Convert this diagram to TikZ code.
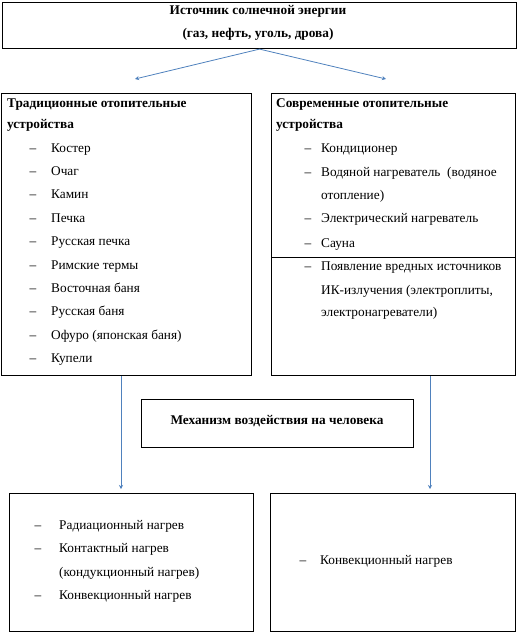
\documentclass[tikz,border=0pt]{standalone}
\usepackage{fontspec}
\setmainfont{Liberation Serif}
\usetikzlibrary{arrows.meta}
\definecolor{wordblue}{RGB}{79,129,189}

\begin{document}
\begin{tikzpicture}[x=1pt,y=-1pt,
  box/.style={draw,line width=1.1pt,inner sep=0pt,anchor=north west},
  txt/.style={font=\fontsize{13.3}{15}\selectfont,inner sep=0pt,anchor=base west},
  head/.style={txt,font=\fontsize{13.3}{15}\selectfont\bfseries},
  arr/.style={draw=wordblue,line width=0.8pt,-{Stealth[length=4pt,width=4pt]}}]
\useasboundingbox (0,0) rectangle (520,635);

% boxes
\node[box,minimum width=514pt,minimum height=46pt] (source) at (2,2) {};
\node[box,minimum width=250pt,minimum height=282pt] (trad) at (1,93) {};
\node[box,minimum width=244pt,minimum height=282pt] (modern) at (271,93) {};
\node[box,minimum width=272pt,minimum height=48pt] (mech) at (141,399) {};
\node[box,minimum width=244pt,minimum height=138pt] (effL) at (9,493) {};
\node[box,minimum width=245pt,minimum height=138pt] (effR) at (270,493) {};

\coordinate (split) at (0,257);
\draw[line width=0.9pt] (modern.west |- split) -- (modern.east |- split);

% texts
\node[head,anchor=base] (sourceA) at (258,14) {Источник солнечной энергии};
\node[head,anchor=base] (sourceB) at (258,37) {(газ, нефть, уголь, дрова)};
\node[head,anchor=base] (mechT) at (277,424) {Механизм воздействия на человека};

\node[head] (tradA) at (7,107) {Традиционные отопительные};
\node[head] (tradB) at (7,128) {устройства};
\foreach \t [count=\i] in {Костер,Очаг,Камин,Печка,Русская печка,Римские термы,
  Восточная баня,Русская баня,Офуро (японская баня),Купели}{
  \node[txt,anchor=base] (tradD\i) at (33,{152+23.4*(\i-1)}) {–};
  \node[txt] (trad\i) at (51,{152+23.4*(\i-1)}) {\t};
}

\node[head] (modernA) at (276,107) {Современные отопительные};
\node[head] (modernB) at (276,128) {устройства};
\node[txt,anchor=base] (modernD1) at (308,152) {–};
\node[txt] (modern1) at (321,152) {Кондиционер};
\node[txt,anchor=base] (modernD2) at (308,176) {–};
\node[txt] (modern2) at (321,176) {Водяной нагреватель \ (водяное};
\node[txt] (modern2b) at (321,199) {отопление)};
\node[txt,anchor=base] (modernD3) at (308,222) {–};
\node[txt] (modern3) at (321,222) {Электрический нагреватель};
\node[txt,anchor=base] (modernD4) at (308,247) {–};
\node[txt] (modern4) at (321,247) {Сауна};
\node[txt,anchor=base] (modernD5) at (308,270) {–};
\node[txt] (modern5) at (321,270) {Появление вредных источников};
\node[txt] (modern5b) at (321,294) {ИК-излучения (электроплиты,};
\node[txt] (modern5c) at (321,316) {электронагреватели)};

\node[txt,anchor=base] (effLD1) at (38,529) {–};
\node[txt] (effL1) at (59,529) {Радиационный нагрев};
\node[txt,anchor=base] (effLD2) at (38,552) {–};
\node[txt] (effL2) at (59,552) {Контактный нагрев};
\node[txt] (effL2b) at (59,576) {(кондукционный нагрев)};
\node[txt,anchor=base] (effLD3) at (38,599) {–};
\node[txt] (effL3) at (59,599) {Конвекционный нагрев};

\node[txt,anchor=base] (effRD1) at (303,564) {–};
\node[txt] (effR1) at (320,564) {Конвекционный нагрев};

% connectors
\coordinate (tipA) at (135,79);
\coordinate (tipB) at (386,79);
\coordinate (tipC) at (121,489);
\coordinate (tipD) at (430,489);
\draw[arr] (source.south) -- (tipA);
\draw[arr] (source.south) -- (tipB);
\draw[arr] (trad.south -| tipC) -- (tipC);
\draw[arr] (modern.south -| tipD) -- (tipD);
\end{tikzpicture}
\end{document}
